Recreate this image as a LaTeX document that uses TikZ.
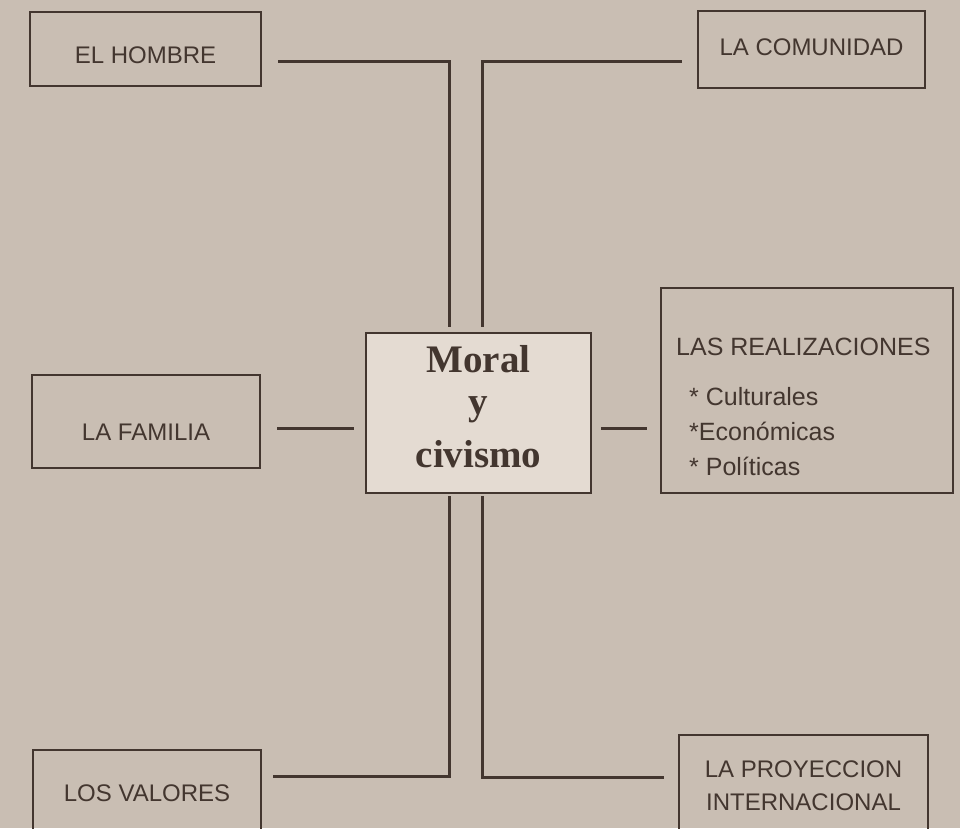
\documentclass[tikz,border=0pt]{standalone}
\usepackage{fontspec}
\setmainfont{Liberation Sans}
\newfontfamily\titulofont{Liberation Serif}
\definecolor{papel}{HTML}{C9BEB3}
\definecolor{papelclaro}{HTML}{E4DBD2}
\definecolor{tinta}{HTML}{43362F}
\tikzset{
	caja/.style={draw=tinta, line width=2.5pt, inner sep=0pt, text=tinta, font=\fontsize{24}{28}\selectfont},
	texto/.style={inner sep=0pt, text=tinta, font=\fontsize{25}{28}\selectfont},
	linea/.style={draw=tinta, line width=3pt}
}
\begin{document}
\begin{tikzpicture}[x=1pt,y=-1pt]
	% Fondo
		\fill[papel] (0,0) rectangle (960,828);
		\useasboundingbox (0,0) rectangle (960,828);
	% Centro
		\node[caja, fill=papelclaro, minimum width=225pt, minimum height=160pt, align=center, font=\titulofont\bfseries\fontsize{39}{47}\selectfont] (moral) at (478.5,413) {Moral\\[-5pt]y\\[6pt]civismo\rule[-13pt]{0pt}{0pt}};
	% Cajas
		\node[caja, minimum width=231pt, text height=51.5pt, text depth=22.5pt] (hombre) at (145.5,49) {EL HOMBRE};
		\node[caja, minimum width=227pt, text height=44pt, text depth=33pt] (comunidad) at (811.5,49.5) {LA COMUNIDAD};
		\node[caja, minimum width=228pt, text height=65.5pt, text depth=27.5pt] (familia) at (146,421.5) {LA FAMILIA};
		\node[caja, minimum width=228pt, text height=51.5pt, text depth=30pt] (valores) at (147,790.75) {LOS VALORES};
		\node[caja, minimum width=249pt, minimum height=101pt, align=center, font=\fontsize{24}{33}\selectfont] (proyeccion) at (803.5,785.5) {LA PROYECCION\\INTERNACIONAL};
		\node[caja, minimum width=292pt, minimum height=205pt] (realizaciones) at (807,390.5) {};
			\node[texto, anchor=base west] (realtit) at (676,355) {LAS REALIZACIONES};
			\node[texto, anchor=base west] (realuno) at (689,405) {* Culturales};
			\node[texto, anchor=base west] (realdos) at (689,440) {*Económicas};
			\node[texto, anchor=base west] (realtres) at (689,475) {* Políticas};
	% Conectores
		\draw[linea] ([xshift=16pt,yshift=-12pt]hombre.east) -| ([xshift=-29.5pt,yshift=5pt]moral.north);
		\draw[linea] ([xshift=-15pt,yshift=-12pt]comunidad.west) -| ([xshift=3.5pt,yshift=5pt]moral.north);
		\draw[linea] ([xshift=16pt,yshift=-7pt]familia.east) -- ([xshift=-11pt,yshift=-15.5pt]moral.west);
		\draw[linea] ([xshift=9pt,yshift=-15pt]moral.east) -- ([xshift=-13pt,yshift=-37.5pt]realizaciones.west);
		\draw[linea] ([xshift=-29.5pt,yshift=-2pt]moral.south) |- ([xshift=11pt,yshift=14pt]valores.east);
		\draw[linea] ([xshift=3.5pt,yshift=-2pt]moral.south) |- ([xshift=-14pt,yshift=8.5pt]proyeccion.west);
\end{tikzpicture}
\end{document}
